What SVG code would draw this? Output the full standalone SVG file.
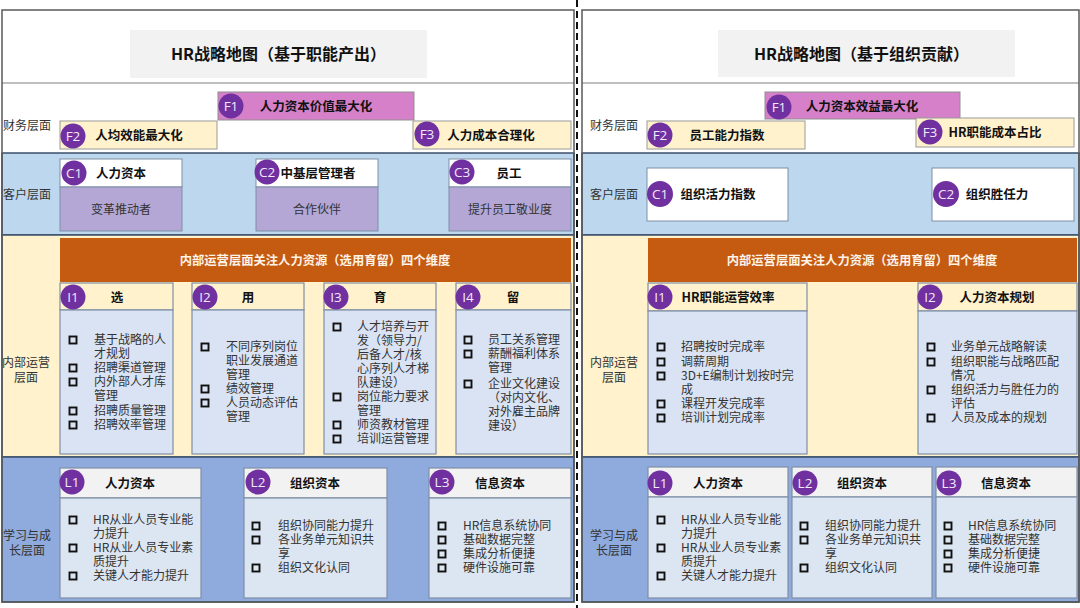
<svg xmlns="http://www.w3.org/2000/svg" width="1080" height="608" viewBox="0 0 1080 608">
<style>
text{font-family:"Noto Sans CJK SC","Liberation Sans",sans-serif;}
.ttl{font-size:16px;font-weight:bold;fill:#111;text-anchor:middle}
.bl{font-size:12px;fill:#333}
.blc{font-size:12px;fill:#333;text-anchor:middle}
.bt{font-size:12.5px;font-weight:bold;fill:#111;text-anchor:middle}
.li{font-size:12px;fill:#333}
.bd{font-size:12px;fill:#333;text-anchor:middle}
.oh{font-size:12.3px;font-weight:bold;fill:#fdf3e6;text-anchor:middle}
.cc{fill:#7030a0}
.ct{font-family:"Open Sans","Liberation Sans",sans-serif;font-size:13.5px;fill:#f3eafa;text-anchor:middle}
.bul{fill:none;stroke:#111;stroke-width:1.9}
.frame{fill:none;stroke:#595959;stroke-width:1.5}
.sep{stroke:#7f7f7f;stroke-width:1.2}
.bandC{fill:#bdd7ee;stroke:#3b4f6b;stroke-width:1.5}
.bandI{fill:#fff2cc;stroke:#3b4f6b;stroke-width:1.5}
.bandL{fill:#8faadc;stroke:#3b4f6b;stroke-width:1.5}
.tbox{fill:#f2f2f2}
.f1{fill:#d580c8;stroke:#8f8f8f;stroke-width:1}
.fy{fill:#fff2cc;stroke:#9a9a9a;stroke-width:1}
.cw{fill:#fff;stroke:#7f8fa6;stroke-width:1}
.cp{fill:#b4a7d6;stroke:#7f8fa6;stroke-width:1}
.or{fill:#c55a11}
.ih{fill:#fff2cc;stroke:#7f8fa6;stroke-width:1.2}
.ib{fill:#dae3f3;stroke:#7f8fa6;stroke-width:1.2}
.lh{fill:#f2f2f2;stroke:#7f8fa6;stroke-width:1.2}
.lb{fill:#dce6f2;stroke:#7f8fa6;stroke-width:1.2}
</style>
<defs>
<rect id="b" x="-3.5" y="-3.5" width="7" height="7" class="bul"/>
</defs>
<rect x="0" y="0" width="1080" height="608" fill="#fff"/>

<!-- ================= LEFT PANEL ================= -->
<g id="left-bands">
<rect x="2" y="153" width="572" height="82" class="bandC"/>
<rect x="2" y="235" width="572" height="222" class="bandI"/>
<rect x="2" y="457" width="572" height="145" class="bandL"/>
<line x1="2" y1="83" x2="574" y2="83" class="sep"/>
<rect x="2" y="10" width="572" height="592" class="frame"/>
<text x="3" y="129.5" class="bl">财务层面</text>
<text x="3" y="198.5" class="bl">客户层面</text>
<text x="26" y="367" class="blc">内部运营</text>
<text x="26" y="382" class="blc">层面</text>
<text x="27" y="540" class="blc">学习与成</text>
<text x="27" y="555" class="blc">长层面</text>
</g>
<g id="left-title">
<rect x="130" y="30" width="297" height="48" class="tbox"/>
<text x="278.5" y="60" class="ttl">HR战略地图（基于职能产出）</text>
</g>
<g id="L-F1">
<rect x="218" y="92" width="196" height="28" class="f1"/>
<text x="316" y="110.5" class="bt">人力资本价值最大化</text>
<circle cx="231" cy="106" r="12.5" class="cc"/><text x="231" y="111" class="ct">F1</text>
</g>
<g id="L-F2">
<rect x="60" y="121" width="157" height="28" class="fy"/>
<text x="139" y="139.5" class="bt">人均效能最大化</text>
<circle cx="73" cy="136" r="12.5" class="cc"/><text x="73" y="141" class="ct">F2</text>
</g>
<g id="L-F3">
<rect x="413" y="121" width="158" height="28" class="fy"/>
<text x="491" y="139.5" class="bt">人力成本合理化</text>
<circle cx="427" cy="134" r="12.5" class="cc"/><text x="427" y="139" class="ct">F3</text>
</g>
<g id="L-C1">
<rect x="60" y="159" width="122" height="28" class="cw"/>
<rect x="60" y="187" width="122" height="44" class="cp"/>
<text x="121" y="177.5" class="bt">人力资本</text>
<text x="121" y="213.5" class="bd">变革推动者</text>
<circle cx="74" cy="173" r="12.5" class="cc"/><text x="74" y="178" class="ct">C1</text>
</g>
<g id="L-C2">
<rect x="256" y="159" width="122" height="28" class="cw"/>
<rect x="256" y="187" width="122" height="44" class="cp"/>
<text x="318" y="177.5" class="bt">中基层管理者</text>
<text x="317" y="213.5" class="bd">合作伙伴</text>
<circle cx="267" cy="172" r="12.5" class="cc"/><text x="267" y="177" class="ct">C2</text>
</g>
<g id="L-C3">
<rect x="449" y="159" width="122" height="28" class="cw"/>
<rect x="449" y="187" width="122" height="44" class="cp"/>
<text x="509" y="177.5" class="bt">员工</text>
<text x="510" y="213.5" class="bd">提升员工敬业度</text>
<circle cx="462" cy="172" r="12.5" class="cc"/><text x="462" y="177" class="ct">C3</text>
</g>
<g id="L-internal-header">
<rect x="60" y="238" width="511" height="44" class="or"/>
<text x="315" y="264.5" class="oh">内部运营层面关注人力资源（选用育留）四个维度</text>
</g>
<g id="L-I1">
<rect x="60" y="283" width="113" height="27" class="ih"/>
<rect x="60" y="310" width="113" height="144" class="ib"/>
<text x="117" y="301.5" class="bt">选</text>
<circle cx="73" cy="297" r="12.5" class="cc"/><text x="73" y="302" class="ct">I1</text>
<use href="#b" x="73" y="340"/><use href="#b" x="73" y="368"/><use href="#b" x="73" y="382"/><use href="#b" x="73" y="411"/><use href="#b" x="73" y="425"/>
<text class="li"><tspan x="94" y="344.3">基于战略的人</tspan><tspan x="94" y="358.3">才规划</tspan><tspan x="94" y="372.3">招聘渠道管理</tspan><tspan x="94" y="386.3">内外部人才库</tspan><tspan x="94" y="400.3">管理</tspan><tspan x="94" y="415.3">招聘质量管理</tspan><tspan x="94" y="429.3">招聘效率管理</tspan></text>
</g>
<g id="L-I2">
<rect x="192" y="283" width="112" height="27" class="ih"/>
<rect x="192" y="310" width="112" height="144" class="ib"/>
<text x="248" y="301.5" class="bt">用</text>
<circle cx="205" cy="297" r="12.5" class="cc"/><text x="205" y="302" class="ct">I2</text>
<use href="#b" x="205" y="347"/><use href="#b" x="205" y="389"/><use href="#b" x="205" y="403"/>
<text class="li"><tspan x="226" y="351.3">不同序列岗位</tspan><tspan x="226" y="365.3">职业发展通道</tspan><tspan x="226" y="379.3">管理</tspan><tspan x="226" y="393.3">绩效管理</tspan><tspan x="226" y="407.3">人员动态评估</tspan><tspan x="226" y="421.3">管理</tspan></text>
</g>
<g id="L-I3">
<rect x="324" y="283" width="112" height="27" class="ih"/>
<rect x="324" y="310" width="112" height="144" class="ib"/>
<text x="380" y="301.5" class="bt">育</text>
<circle cx="336" cy="297" r="12.5" class="cc"/><text x="336" y="302" class="ct">I3</text>
<use href="#b" x="337" y="327"/><use href="#b" x="337" y="397"/><use href="#b" x="337" y="425"/><use href="#b" x="337" y="439"/>
<text class="li"><tspan x="357" y="331.3">人才培养与开</tspan><tspan x="357" y="345.3">发（领导力/</tspan><tspan x="357" y="359.3">后备人才/核</tspan><tspan x="357" y="373.3">心序列人才梯</tspan><tspan x="357" y="387.3">队建设）</tspan><tspan x="357" y="401.3">岗位能力要求</tspan><tspan x="357" y="415.3">管理</tspan><tspan x="357" y="429.3">师资教材管理</tspan><tspan x="357" y="443.3">培训运营管理</tspan></text>
</g>
<g id="L-I4">
<rect x="456" y="283" width="115" height="27" class="ih"/>
<rect x="456" y="310" width="115" height="144" class="ib"/>
<text x="513" y="301.5" class="bt">留</text>
<circle cx="468" cy="297" r="12.5" class="cc"/><text x="468" y="302" class="ct">I4</text>
<use href="#b" x="468" y="340"/><use href="#b" x="468" y="354"/><use href="#b" x="468" y="384"/>
<text class="li"><tspan x="488" y="344.3">员工关系管理</tspan><tspan x="488" y="358.3">薪酬福利体系</tspan><tspan x="488" y="372.3">管理</tspan><tspan x="488" y="388.3">企业文化建设</tspan><tspan x="488" y="402.3">（对内文化、</tspan><tspan x="488" y="416.3">对外雇主品牌</tspan><tspan x="488" y="430.3">建设）</tspan></text>
</g>
<g id="L-L1">
<rect x="60" y="468" width="141" height="30" class="lh"/>
<rect x="60" y="498" width="141" height="100" class="lb"/>
<text x="130" y="487.5" class="bt">人力资本</text>
<circle cx="72" cy="482" r="12.5" class="cc"/><text x="72" y="487" class="ct">L1</text>
<use href="#b" x="73" y="520"/><use href="#b" x="73" y="548"/><use href="#b" x="73" y="576"/>
<text class="li"><tspan x="93" y="524.3">HR从业人员专业能</tspan><tspan x="93" y="538.3">力提升</tspan><tspan x="93" y="552.3">HR从业人员专业素</tspan><tspan x="93" y="566.3">质提升</tspan><tspan x="93" y="580.3">关键人才能力提升</tspan></text>
</g>
<g id="L-L2">
<rect x="244" y="468" width="143" height="30" class="lh"/>
<rect x="244" y="498" width="143" height="100" class="lb"/>
<text x="315" y="487.5" class="bt">组织资本</text>
<circle cx="258" cy="482" r="12.5" class="cc"/><text x="258" y="487" class="ct">L2</text>
<use href="#b" x="256" y="526"/><use href="#b" x="256" y="540"/><use href="#b" x="256" y="568"/>
<text class="li"><tspan x="278" y="530.3">组织协同能力提升</tspan><tspan x="278" y="544.3">各业务单元知识共</tspan><tspan x="278" y="558.3">享</tspan><tspan x="278" y="572.3">组织文化认同</tspan></text>
</g>
<g id="L-L3">
<rect x="429" y="468" width="142" height="30" class="lh"/>
<rect x="429" y="498" width="142" height="100" class="lb"/>
<text x="500" y="487.5" class="bt">信息资本</text>
<circle cx="442" cy="482" r="12.5" class="cc"/><text x="442" y="487" class="ct">L3</text>
<use href="#b" x="442" y="526"/><use href="#b" x="442" y="540"/><use href="#b" x="442" y="554"/><use href="#b" x="442" y="568"/>
<text class="li"><tspan x="463" y="530.3">HR信息系统协同</tspan><tspan x="463" y="544.3">基础数据完整</tspan><tspan x="463" y="558.3">集成分析便捷</tspan><tspan x="463" y="572.3">硬件设施可靠</tspan></text>
</g>

<!-- divider -->
<line x1="577" y1="0" x2="577" y2="608" stroke="#111" stroke-width="2" stroke-dasharray="7 4"/>

<!-- ================= RIGHT PANEL ================= -->
<g id="right-bands">
<rect x="582" y="153" width="497" height="82" class="bandC"/>
<rect x="582" y="235" width="497" height="222" class="bandI"/>
<rect x="582" y="457" width="497" height="145" class="bandL"/>
<line x1="582" y1="83" x2="1079" y2="83" class="sep"/>
<rect x="582" y="10" width="497" height="592" class="frame"/>
<text x="614" y="129.5" class="blc">财务层面</text>
<text x="614" y="198.5" class="blc">客户层面</text>
<text x="614" y="367" class="blc">内部运营</text>
<text x="614" y="382" class="blc">层面</text>
<text x="614" y="540" class="blc">学习与成</text>
<text x="614" y="555" class="blc">长层面</text>
</g>
<g id="right-title">
<rect x="718" y="30" width="297" height="47" class="tbox"/>
<text x="861.5" y="60" class="ttl">HR战略地图（基于组织贡献）</text>
</g>
<g id="R-F1">
<rect x="765" y="92" width="195" height="27" class="f1"/>
<text x="862" y="110.5" class="bt">人力资本效益最大化</text>
<circle cx="779" cy="107" r="12.5" class="cc"/><text x="779" y="112" class="ct">F1</text>
</g>
<g id="R-F2">
<rect x="647" y="121" width="158" height="28" class="fy"/>
<text x="727" y="139.5" class="bt">员工能力指数</text>
<circle cx="660" cy="135" r="12.5" class="cc"/><text x="660" y="140" class="ct">F2</text>
</g>
<g id="R-F3">
<rect x="916" y="118" width="158" height="29" class="fy"/>
<text x="995" y="137" class="bt">HR职能成本占比</text>
<circle cx="930" cy="132" r="12.5" class="cc"/><text x="930" y="137" class="ct">F3</text>
</g>
<g id="R-C1">
<rect x="647" y="168" width="141" height="53" class="cw"/>
<text x="718" y="198.5" class="bt">组织活力指数</text>
<circle cx="660" cy="194" r="13" class="cc"/><text x="660" y="199" class="ct">C1</text>
</g>
<g id="R-C2">
<rect x="932" y="168" width="142" height="53" class="cw"/>
<text x="997" y="198.5" class="bt">组织胜任力</text>
<circle cx="946" cy="194" r="13" class="cc"/><text x="946" y="199" class="ct">C2</text>
</g>
<g id="R-internal-header">
<rect x="648" y="238" width="429" height="44" class="or"/>
<text x="862" y="264.5" class="oh">内部运营层面关注人力资源（选用育留）四个维度</text>
</g>
<g id="R-I1">
<rect x="648" y="283" width="159" height="28" class="ih"/>
<rect x="648" y="311" width="159" height="143" class="ib"/>
<text x="728" y="301.5" class="bt">HR职能运营效率</text>
<circle cx="660" cy="297" r="12.5" class="cc"/><text x="660" y="302" class="ct">I1</text>
<use href="#b" x="661" y="347"/><use href="#b" x="661" y="362"/><use href="#b" x="661" y="376"/><use href="#b" x="661" y="404"/><use href="#b" x="661" y="418"/>
<text class="li"><tspan x="681" y="351.3">招聘按时完成率</tspan><tspan x="681" y="366.3">调薪周期</tspan><tspan x="681" y="380.3">3D+E编制计划按时完</tspan><tspan x="681" y="394.3">成</tspan><tspan x="681" y="408.3">课程开发完成率</tspan><tspan x="681" y="422.3">培训计划完成率</tspan></text>
</g>
<g id="R-I2">
<rect x="918" y="283" width="159" height="28" class="ih"/>
<rect x="918" y="311" width="159" height="143" class="ib"/>
<text x="997" y="301.5" class="bt">人力资本规划</text>
<circle cx="930" cy="297" r="12.5" class="cc"/><text x="930" y="302" class="ct">I2</text>
<use href="#b" x="931" y="347"/><use href="#b" x="931" y="362"/><use href="#b" x="931" y="390"/><use href="#b" x="931" y="418"/>
<text class="li"><tspan x="951" y="351.3">业务单元战略解读</tspan><tspan x="951" y="366.3">组织职能与战略匹配</tspan><tspan x="951" y="380.3">情况</tspan><tspan x="951" y="394.3">组织活力与胜任力的</tspan><tspan x="951" y="408.3">评估</tspan><tspan x="951" y="422.3">人员及成本的规划</tspan></text>
</g>
<g id="R-L1">
<rect x="648" y="467" width="140" height="30" class="lh"/>
<rect x="648" y="497" width="140" height="101" class="lb"/>
<text x="718" y="487.5" class="bt">人力资本</text>
<circle cx="660" cy="483" r="12.5" class="cc"/><text x="660" y="488" class="ct">L1</text>
<use href="#b" x="661" y="520"/><use href="#b" x="661" y="548"/><use href="#b" x="661" y="576"/>
<text class="li"><tspan x="681" y="524.3">HR从业人员专业能</tspan><tspan x="681" y="538.3">力提升</tspan><tspan x="681" y="552.3">HR从业人员专业素</tspan><tspan x="681" y="566.3">质提升</tspan><tspan x="681" y="580.3">关键人才能力提升</tspan></text>
</g>
<g id="R-L2">
<rect x="792" y="467" width="140" height="30" class="lh"/>
<rect x="792" y="497" width="140" height="101" class="lb"/>
<text x="862" y="487.5" class="bt">组织资本</text>
<circle cx="805" cy="483" r="12.5" class="cc"/><text x="805" y="488" class="ct">L2</text>
<use href="#b" x="804" y="526"/><use href="#b" x="804" y="540"/><use href="#b" x="804" y="568"/>
<text class="li"><tspan x="825" y="530.3">组织协同能力提升</tspan><tspan x="825" y="544.3">各业务单元知识共</tspan><tspan x="825" y="558.3">享</tspan><tspan x="825" y="572.3">组织文化认同</tspan></text>
</g>
<g id="R-L3">
<rect x="936" y="467" width="141" height="30" class="lh"/>
<rect x="936" y="497" width="141" height="101" class="lb"/>
<text x="1006" y="487.5" class="bt">信息资本</text>
<circle cx="949" cy="483" r="12.5" class="cc"/><text x="949" y="488" class="ct">L3</text>
<use href="#b" x="948" y="526"/><use href="#b" x="948" y="540"/><use href="#b" x="948" y="554"/><use href="#b" x="948" y="568"/>
<text class="li"><tspan x="968" y="530.3">HR信息系统协同</tspan><tspan x="968" y="544.3">基础数据完整</tspan><tspan x="968" y="558.3">集成分析便捷</tspan><tspan x="968" y="572.3">硬件设施可靠</tspan></text>
</g>
<g id="connectors"/>
</svg>
